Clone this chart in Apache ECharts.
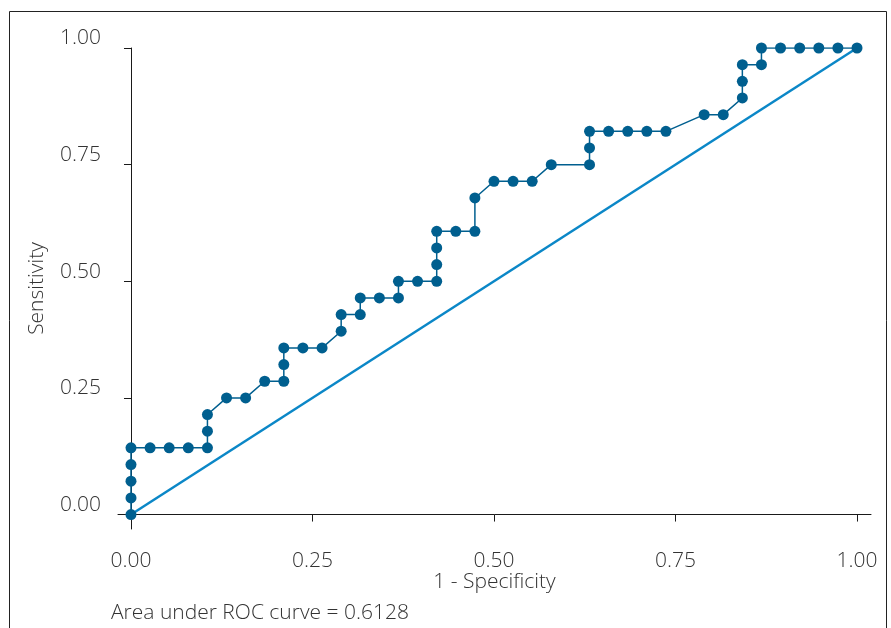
<!DOCTYPE html>
<html>
<head>
<meta charset="utf-8">
<script src="https://cdn.jsdelivr.net/npm/echarts@6/dist/echarts.min.js"></script>
<style>
  html, body { margin: 0; padding: 0; background: #fff; }
  #chart { width: 891px; height: 628px; }
</style>
</head>
<body>
<div id="chart"></div>
<script>
// ROC curve points (1 - specificity, sensitivity)
const oneMinusSpec = [0, 0, 0, 0, 0, 0.0263, 0.0526, 0.0789, 0.1053, 0.1053, 0.1053, 0.1316, 0.1579, 0.1842, 0.2105, 0.2105, 0.2105, 0.2368, 0.2632, 0.2895, 0.2895, 0.3158, 0.3158, 0.3421, 0.3684, 0.3684, 0.3947, 0.4211, 0.4211, 0.4211, 0.4211, 0.4474, 0.4737, 0.4737, 0.5, 0.5263, 0.5526, 0.5789, 0.6316, 0.6316, 0.6316, 0.6579, 0.6842, 0.7105, 0.7368, 0.7895, 0.8158, 0.8421, 0.8421, 0.8421, 0.8684, 0.8684, 0.8947, 0.9211, 0.9474, 0.9737, 1];
const sensitivity = [0, 0.0357, 0.0714, 0.1071, 0.1429, 0.1429, 0.1429, 0.1429, 0.1429, 0.1786, 0.2143, 0.25, 0.25, 0.2857, 0.2857, 0.3214, 0.3571, 0.3571, 0.3571, 0.3929, 0.4286, 0.4286, 0.4643, 0.4643, 0.4643, 0.5, 0.5, 0.5, 0.5357, 0.5714, 0.6071, 0.6071, 0.6071, 0.6786, 0.7143, 0.7143, 0.7143, 0.75, 0.75, 0.7857, 0.8214, 0.8214, 0.8214, 0.8214, 0.8214, 0.8571, 0.8571, 0.8929, 0.9286, 0.9643, 0.9643, 1, 1, 1, 1, 1, 1];
// reference (chance) line
const refX = [0, 1];
const refY = [0, 1];
// axis ticks
const tickValues = [0, 0.25, 0.5, 0.75, 1];
const tickLabels = ['0.00', '0.25', '0.50', '0.75', '1.00'];
const aucText = 'Area under ROC curve = 0.6128';

const txtColor = '#333';
const axisColor = '#1a1a1a';
const fontFam = '"Open Sans", "Noto Sans", sans-serif';
const fs = 21;

const rocData = oneMinusSpec.map((x, i) => [x, sensitivity[i]]);
const refData = refX.map((x, i) => [x, refY[i]]);
const fmt = (v) => tickLabels[tickValues.indexOf(v)] ?? v.toFixed(2);

const myChart = echarts.init(document.getElementById('chart'));
const option = {
    animation: false,
    textStyle: { fontFamily: fontFam },
    grid: { left: 118, right: 20, top: 48, bottom: 99 },
    xAxis: {
        type: 'value',
        min: -0.0179,
        max: 1.0193,
        name: '1 - Specificity',
        nameLocation: 'middle',
        nameGap: 43,
        nameMoveOverlap: false,
        nameTextStyle: { color: txtColor, fontSize: fs, fontFamily: fontFam, fontWeight: 300 },
        splitLine: { show: false },
        axisLine: { lineStyle: { color: axisColor, width: 1 } },
        axisTick: { show: true, length: 7, customValues: tickValues, lineStyle: { color: axisColor } },
        axisLabel: {
            customValues: tickValues,
            formatter: fmt,
            margin: 22,
            color: txtColor, fontSize: fs, fontFamily: fontFam, fontWeight: 300
        }
    },
    yAxis: {
        type: 'value',
        min: -0.031,
        max: 1,
        name: 'Sensitivity',
        nameLocation: 'middle',
        nameGap: 70,
        nameMoveOverlap: false,
        nameTextStyle: { color: txtColor, fontSize: fs, fontFamily: fontFam, fontWeight: 300 },
        splitLine: { show: false },
        axisLine: { show: true, lineStyle: { color: axisColor, width: 1 } },
        axisTick: { show: true, length: 7, customValues: tickValues, lineStyle: { color: axisColor } },
        axisLabel: {
            customValues: tickValues,
            formatter: fmt,
            margin: 17,
            verticalAlign: 'bottom',
            lineHeight: 19,
            color: txtColor, fontSize: fs, fontFamily: fontFam, fontWeight: 300
        }
    },
    series: [
        {
            name: 'Reference',
            type: 'line',
            data: refData,
            showSymbol: false,
            lineStyle: { color: '#0b87c7', width: 2.5 },
            z: 2
        },
        {
            name: 'ROC',
            type: 'line',
            data: rocData,
            symbol: 'circle',
            symbolSize: 11,
            showAllSymbol: true,
            itemStyle: { color: '#005f8f' },
            lineStyle: { color: '#005f8f', width: 1.5 },
            z: 3
        }
    ],
    graphic: [
        {
            type: 'rect',
            shape: { x: 9.5, y: 11.5, width: 877, height: 700 },
            style: { fill: 'none', stroke: '#222', lineWidth: 1 },
            silent: true
        },
        {
            type: 'text',
            left: 111,
            top: 603,
            style: { text: aucText, fill: txtColor, fontSize: fs, fontFamily: fontFam, fontWeight: 300 }
        }
    ]
};
myChart.setOption(option);
window.addEventListener('resize', () => {
    myChart.resize();
});
</script>
</body>
</html>
